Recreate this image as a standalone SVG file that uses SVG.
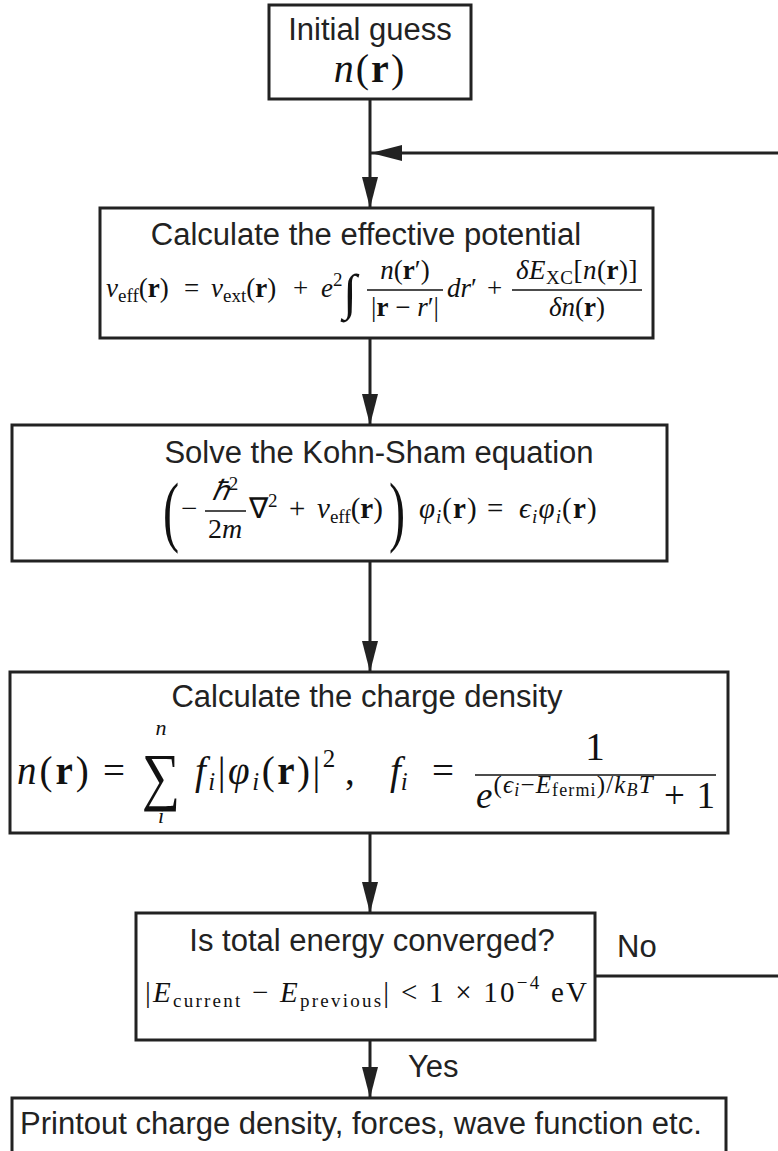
<svg xmlns="http://www.w3.org/2000/svg" width="778" height="1151" viewBox="0 0 778 1151">
<defs>
<style>
.box{fill:#fff;stroke:#222;stroke-width:3}
.t{font-family:"Liberation Sans",Arial,sans-serif;font-size:31px;fill:#222}
.m{font-family:"Liberation Serif","Times New Roman",serif;fill:#111}
.i{font-style:italic}
.b{font-weight:bold}
.ln{stroke:#222;stroke-width:3;fill:none}
.bar{stroke:#111;stroke-width:1.4}
</style>
<marker id="ah" markerUnits="userSpaceOnUse" markerWidth="31" markerHeight="16" viewBox="0 0 31 16" refX="31" refY="8" orient="auto">
<path d="M0,0 L31,8 L0,16 z" fill="#222"/>
</marker>
</defs>
<rect width="778" height="1151" fill="#fff"/>

<g id="connectors">
<line class="ln" x1="370" y1="99" x2="370" y2="208" marker-end="url(#ah)"/>
<line class="ln" x1="778" y1="153" x2="371" y2="153" marker-end="url(#ah)"/>
<line class="ln" x1="370" y1="338" x2="370" y2="425" marker-end="url(#ah)"/>
<line class="ln" x1="370" y1="561" x2="370" y2="672" marker-end="url(#ah)"/>
<line class="ln" x1="370" y1="833" x2="370" y2="913" marker-end="url(#ah)"/>
<line class="ln" x1="370" y1="1040" x2="370" y2="1098" marker-end="url(#ah)"/>
<line class="ln" x1="595" y1="976" x2="778" y2="976"/>
<text class="t" x="617" y="957">No</text>
<text class="t" x="408" y="1077">Yes</text>
</g>

<g id="initial">
<rect class="box" x="269" y="5" width="202" height="94"/>
<text class="t" x="370" y="40" text-anchor="middle">Initial guess</text>
<text class="m" x="370" y="82" font-size="40" letter-spacing="2" text-anchor="middle"><tspan class="i">n</tspan>(<tspan class="b">r</tspan>)</text>
</g>

<g id="potential">
<rect class="box" x="100" y="208" width="553" height="130"/>
<text class="t" x="366" y="245" text-anchor="middle">Calculate the effective potential</text>
<text class="m" x="106" y="297" font-size="27"><tspan class="i">v</tspan><tspan font-size="19" dy="5">eff</tspan><tspan dy="-5">(</tspan><tspan class="b">r</tspan>)</text>
<text class="m" x="184" y="297" font-size="27">=</text>
<text class="m" x="211" y="297" font-size="27"><tspan class="i">v</tspan><tspan font-size="19" dy="5">ext</tspan><tspan dy="-5">(</tspan><tspan class="b">r</tspan>)</text>
<text class="m" x="293" y="297" font-size="27">+</text>
<text class="m" x="321" y="297" font-size="27"><tspan class="i">e</tspan><tspan font-size="19" dy="-11">2</tspan></text>
<text class="m i" x="343" y="309" font-size="50">∫</text>
<text class="m" x="405" y="279" font-size="27" text-anchor="middle"><tspan class="i">n</tspan>(<tspan class="b">r</tspan>′)</text>
<line class="bar" x1="367" y1="290" x2="443" y2="290"/>
<text class="m" x="405" y="316" font-size="27" text-anchor="middle">|<tspan class="b">r</tspan> − <tspan class="i">r</tspan>′|</text>
<text class="m" x="447" y="297" font-size="27"><tspan class="i">dr</tspan>′</text>
<text class="m" x="487" y="297" font-size="27">+</text>
<text class="m" x="577" y="279" font-size="27" text-anchor="middle" letter-spacing="0.5"><tspan class="i">δE</tspan><tspan font-size="19" dy="5">XC</tspan><tspan dy="-5">[</tspan><tspan class="i">n</tspan>(<tspan class="b">r</tspan>)]</text>
<line class="bar" x1="512" y1="290" x2="642" y2="290"/>
<text class="m" x="577" y="316" font-size="27" text-anchor="middle"><tspan class="i">δn</tspan>(<tspan class="b">r</tspan>)</text>
</g>

<g id="kohnsham">
<rect class="box" x="12" y="425" width="655" height="136"/>
<text class="t" x="379" y="463" text-anchor="middle">Solve the Kohn-Sham equation</text>
<text class="m" x="0" y="0" font-size="78" transform="translate(163,537) scale(0.62,1)">(</text>
<text class="m" x="181" y="518" font-size="29">−</text>
<text class="m" x="225" y="500" font-size="28" text-anchor="middle"><tspan class="i">ℏ</tspan><tspan font-size="19" dy="-10">2</tspan></text>
<line class="bar" x1="205" y1="511" x2="246" y2="511"/>
<text class="m" x="225" y="538" font-size="28" text-anchor="middle">2<tspan class="i">m</tspan></text>
<text class="m" x="249" y="518" font-size="29">∇<tspan font-size="19" dy="-11">2</tspan></text>
<text class="m" x="289" y="518" font-size="29">+</text>
<text class="m" x="317" y="518" font-size="29"><tspan class="i">v</tspan><tspan font-size="19" dy="5">eff</tspan><tspan dy="-5">(</tspan><tspan class="b">r</tspan>)</text>
<text class="m" x="0" y="0" font-size="78" transform="translate(389,537) scale(0.62,1)">)</text>
<text class="m" x="419" y="518" font-size="29" letter-spacing="1"><tspan class="i">φ</tspan><tspan class="i" font-size="19" dy="5">i</tspan><tspan dy="-5">(</tspan><tspan class="b">r</tspan>)</text>
<text class="m" x="487" y="518" font-size="29">=</text>
<text class="m" x="519" y="518" font-size="29" letter-spacing="1.2"><tspan class="i">ϵ</tspan><tspan class="i" font-size="19" dy="5">i</tspan><tspan class="i" dy="-5">φ</tspan><tspan class="i" font-size="19" dy="5">i</tspan><tspan dy="-5">(</tspan><tspan class="b">r</tspan>)</text>
</g>

<g id="charge">
<rect class="box" x="10" y="672" width="718" height="161"/>
<text class="t" x="367" y="707" text-anchor="middle">Calculate the charge density</text>
<text class="m" x="17" y="784" font-size="39" letter-spacing="3"><tspan class="i">n</tspan>(<tspan class="b">r</tspan>)</text>
<text class="m" x="103" y="784" font-size="39">=</text>
<text class="m" x="0" y="0" font-size="64" text-anchor="middle" transform="translate(161,798) scale(0.84,1)">∑</text>
<text class="m i" x="161" y="735" font-size="22" text-anchor="middle">n</text>
<text class="m i" x="161" y="823" font-size="22" text-anchor="middle">i</text>
<text class="m" x="195" y="784" font-size="39" letter-spacing="2.5"><tspan class="i">f</tspan><tspan class="i" font-size="25" dy="6">i</tspan><tspan dy="-6">|</tspan><tspan class="i">φ</tspan><tspan class="i" font-size="25" dy="6">i</tspan><tspan dy="-6">(</tspan><tspan class="b">r</tspan>)|<tspan font-size="25" dy="-17">2</tspan></text>
<text class="m" x="345" y="784" font-size="39">,</text>
<text class="m" x="390" y="784" font-size="39"><tspan class="i">f</tspan><tspan class="i" font-size="25" dy="6">i</tspan></text>
<text class="m" x="432" y="784" font-size="39">=</text>
<text class="m" x="595" y="760" font-size="39" text-anchor="middle">1</text>
<line class="bar" x1="475" y1="775" x2="716" y2="775"/>
<text class="m" x="476" y="808" font-size="37" textLength="239" lengthAdjust="spacing"><tspan class="i">e</tspan><tspan font-size="25" dy="-15">(<tspan class="i">ϵ</tspan><tspan class="i" font-size="18" dy="3">i</tspan><tspan dy="-3">−</tspan><tspan class="i">E</tspan><tspan font-size="18" dy="3">fermi</tspan><tspan dy="-3">)/</tspan><tspan class="i">k</tspan><tspan class="i" font-size="18" dy="3">B</tspan><tspan class="i" dy="-3">T</tspan></tspan><tspan dy="15"> + 1</tspan></text>
</g>

<g id="converged">
<rect class="box" x="136" y="913" width="459" height="127"/>
<text class="t" x="372" y="951" text-anchor="middle">Is total energy converged?</text>
<text class="m" x="145" y="1002" font-size="29" textLength="442" lengthAdjust="spacing">|<tspan class="i">E</tspan><tspan font-size="19" dy="5">current</tspan><tspan dy="-5"> − </tspan><tspan class="i">E</tspan><tspan font-size="19" dy="5">previous</tspan><tspan dy="-5">| &lt; 1 × 10</tspan><tspan font-size="19" dy="-13">−4</tspan><tspan dy="13"> eV</tspan></text>
</g>

<g id="printout">
<rect class="box" x="12" y="1098" width="714" height="60"/>
<text class="t" x="20" y="1134" font-size="31.5">Printout charge density, forces, wave function etc.</text>
</g>
</svg>
